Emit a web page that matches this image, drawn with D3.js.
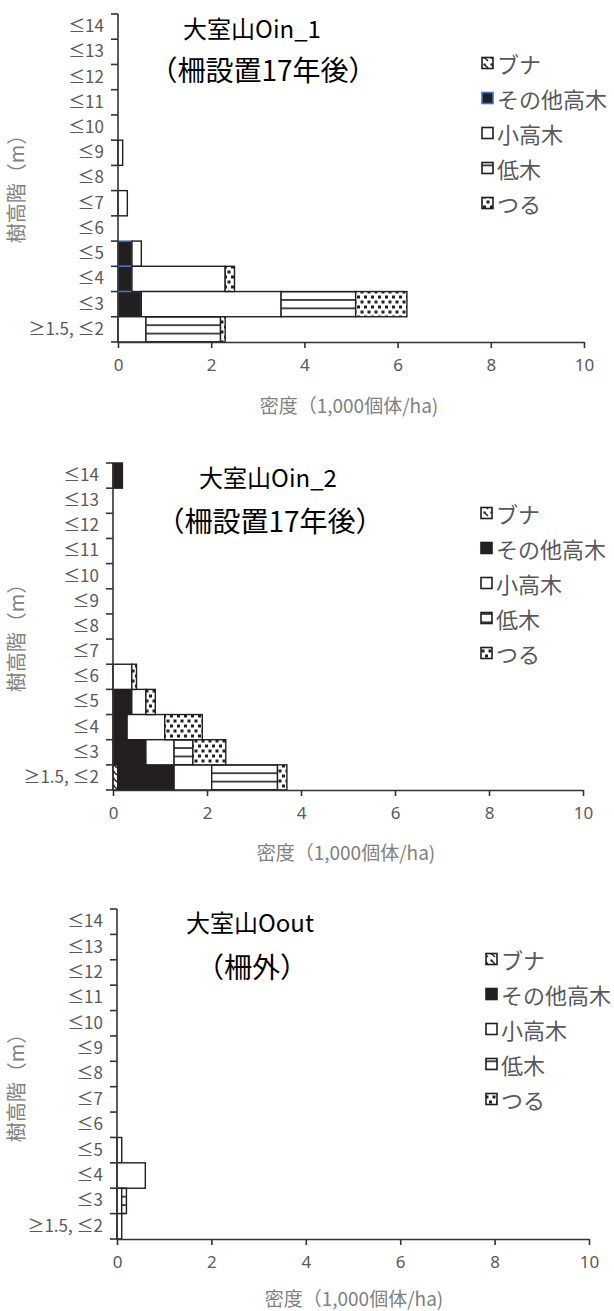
<!DOCTYPE html>
<html><head><meta charset="utf-8">
<script src="https://cdn.jsdelivr.net/npm/d3@7"></script>
<style>
body{margin:0;background:#fff}
svg{display:block}
text{font-family:"Noto Sans CJK JP","Noto Sans",sans-serif}
</style>
</head><body>
<svg id="chart" width="614" height="1311"></svg>
<script>
// ---- data (categories listed from bottom to top of the axis) ----
const categories = ["≥1.5, ≤2","≤3","≤4","≤5","≤6","≤7","≤8","≤9","≤10","≤11","≤12","≤13","≤14"];
const seriesNames = ["ブナ","その他高木","小高木","低木","つる"];
const xTickValues = [0,2,4,6,8,10];
const xAxisTitle = "密度（1,000個体/ha)";
const yAxisTitle = "樹高階（m）";

// 大室山Oin_1
const oin1Title = ["大室山Oin_1","（柵設置17年後）"];
const oin1Buna  = [0,  0,  0,  0,  0,0,  0,0,  0,0,0,0,0];
const oin1Other = [0,  0.5,0.3,0.3,0,0,  0,0,  0,0,0,0,0];
const oin1Small = [0.6,3.0,2.0,0.2,0,0.2,0,0.1,0,0,0,0,0];
const oin1Low   = [1.6,1.6,0,  0,  0,0,  0,0,  0,0,0,0,0];
const oin1Vine  = [0.1,1.1,0.2,0,  0,0,  0,0,  0,0,0,0,0];

// 大室山Oin_2
const oin2Title = ["大室山Oin_2","（柵設置17年後）"];
const oin2Buna  = [0.1,0,  0,  0,  0,  0,0,0,0,0,0,0,0];
const oin2Other = [1.2,0.7,0.3,0.4,0,  0,0,0,0,0,0,0,0.2];
const oin2Small = [0.8,0.6,0.8,0.3,0.4,0,0,0,0,0,0,0,0];
const oin2Low   = [1.4,0.4,0,  0,  0,  0,0,0,0,0,0,0,0];
const oin2Vine  = [0.2,0.7,0.8,0.2,0.1,0,0,0,0,0,0,0,0];

// 大室山Oout
const ooutTitle = ["大室山Oout","（柵外）"];
const ooutBuna  = [0,  0,  0,  0,  0,0,0,0,0,0,0,0,0];
const ooutOther = [0,  0,  0,  0,  0,0,0,0,0,0,0,0,0];
const ooutSmall = [0.1,0.1,0.6,0.1,0,0,0,0,0,0,0,0,0];
const ooutLow   = [0,  0.1,0,  0,  0,0,0,0,0,0,0,0,0];
const ooutVine  = [0,  0,  0,  0,  0,0,0,0,0,0,0,0,0];

// ---- drawing ----
const svg = d3.select("#chart");
const INK = "#231f20";
const NUMFONT = "'Noto Sans','DejaVu Sans',sans-serif";
const CJKFONT = "'Noto Sans CJK JP',sans-serif";

function drawChart(id, title, arrays, L, otherStroke) {
  const rows = categories.map((c, i) => {
    const r = {cat: c};
    seriesNames.forEach((s, k) => r[s] = arrays[k][i]);
    return r;
  });
  const stacked = d3.stack().keys(seriesNames)(rows);

  const x = d3.scaleLinear().domain([0, 10]).range([L.left, L.right]);
  const y = d3.scaleBand().domain(categories.slice().reverse()).range([L.top, L.bottom]).padding(0);
  const bw = y.bandwidth();

  const g = svg.append("g");
  const defs = svg.append("defs");

  // patterns
  const pB = defs.append("pattern").attr("id", id + "buna").attr("patternUnits", "userSpaceOnUse")
    .attr("width", 7).attr("height", 7);
  pB.append("rect").attr("width", 7).attr("height", 7).attr("fill", "#fff");
  pB.append("line").attr("x1", 1).attr("y1", 1).attr("x2", 5).attr("y2", 5).attr("stroke", INK).attr("stroke-width", 1.4);
  pB.append("rect").attr("x", 0.5).attr("y", 0.5).attr("width", 2).attr("height", 2).attr("fill", INK);

  const pL = defs.append("pattern").attr("id", id + "low").attr("patternUnits", "userSpaceOnUse")
    .attr("x", 0).attr("y", L.top).attr("width", 10).attr("height", bw / 3);
  pL.append("rect").attr("width", 10).attr("height", bw / 3).attr("fill", "#fff");
  pL.append("rect").attr("y", -0.8).attr("width", 10).attr("height", 1.6).attr("fill", INK);
  pL.append("rect").attr("y", bw / 3 - 0.8).attr("width", 10).attr("height", 1.6).attr("fill", INK);

  const pV = defs.append("pattern").attr("id", id + "vine").attr("patternUnits", "userSpaceOnUse")
    .attr("x", L.left).attr("y", L.top).attr("width", 7).attr("height", 10);
  pV.append("rect").attr("width", 7).attr("height", 10).attr("fill", "#fff");
  pV.append("rect").attr("x", 1).attr("y", 1.5).attr("width", 3).attr("height", 3).attr("fill", INK);
  pV.append("rect").attr("x", 4.5).attr("y", 6.5).attr("width", 3).attr("height", 3).attr("fill", INK);
  pV.append("rect").attr("x", -2.5).attr("y", 6.5).attr("width", 3).attr("height", 3).attr("fill", INK);

  const fills = {
    "ブナ": `url(#${id}buna)`,
    "その他高木": INK,
    "小高木": "#fff",
    "低木": `url(#${id}low)`,
    "つる": `url(#${id}vine)`
  };
  const strokes = {"ブナ": INK, "その他高木": otherStroke, "小高木": INK, "低木": INK, "つる": INK};

  // bars
  stacked.forEach(layer => {
    const key = layer.key;
    const data = layer.map((d, i) => ({cat: categories[i], x0: d[0], x1: d[1]}))
      .filter(d => d.x1 - d.x0 > 0).reverse();
    g.selectAll(null).data(data).join("rect")
      .attr("x", d => x(d.x0))
      .attr("y", d => y(d.cat))
      .attr("width", d => x(d.x1) - x(d.x0))
      .attr("height", bw)
      .attr("fill", fills[key])
      .attr("stroke", strokes[key])
      .attr("stroke-width", 1.4);
  });

  // x axis
  const xa = g.append("g").attr("transform", `translate(0,${L.bottom})`)
    .call(d3.axisBottom(x).tickValues(xTickValues).tickSize(6).tickSizeOuter(0).tickPadding(11));
  xa.select(".domain").attr("stroke", "#333").attr("stroke-width", 1.6);
  xa.selectAll(".tick line").attr("stroke", "#333").attr("stroke-width", 1.6);
  xa.selectAll(".tick text").attr("fill", "#595959").style("font-size", "17px")
    .style("font-family", NUMFONT);

  // y axis: labels at band centres, ticks on band boundaries
  const ya = g.append("g").attr("transform", `translate(${L.left},0)`)
    .call(d3.axisLeft(y).tickSize(0).tickPadding(14));
  ya.select(".domain").remove();
  ya.selectAll(".tick text").attr("fill", "#595959").style("font-size", "17px")
    .style("font-family", CJKFONT);
  const bounds = y.domain().map(c => y(c)).concat([L.bottom]);
  g.selectAll(null).data(bounds).join("line")
    .attr("x1", L.left - 7).attr("x2", L.left).attr("y1", d => d).attr("y2", d => d)
    .attr("stroke", "#333").attr("stroke-width", 1.6);
  g.append("line").attr("x1", L.left).attr("x2", L.left).attr("y1", L.top).attr("y2", L.bottom)
    .attr("stroke", "#333").attr("stroke-width", 1.6);

  // titles
  g.append("text").attr("x", L.titleX).attr("y", L.titleY).attr("text-anchor", "middle")
    .attr("dominant-baseline", "central").attr("fill", "#000").style("font-size", "24px").text(title[0]);
  g.append("text").attr("x", L.subX).attr("y", L.subY).attr("text-anchor", "middle")
    .attr("dominant-baseline", "central").attr("fill", "#000").style("font-size", "28px").text(title[1]);

  // axis titles
  g.append("text").attr("x", L.xTitleX).attr("y", L.xTitleY).attr("text-anchor", "middle")
    .attr("dominant-baseline", "central").attr("fill", "#808080").style("font-size", "19px").text(xAxisTitle);
  g.append("text").attr("transform", `translate(${L.yTitleX},${L.yTitleY}) rotate(-90)`)
    .attr("text-anchor", "middle").attr("dominant-baseline", "central")
    .attr("fill", "#808080").style("font-size", "20px").text(yAxisTitle);

  // legend
  const lg = g.append("g");
  seriesNames.forEach((s, k) => {
    const cy = L.legY + k * L.legStep;
    lg.append("rect").attr("x", L.legX).attr("y", cy - 5.5).attr("width", 11).attr("height", 11)
      .attr("fill", fills[s]).attr("stroke", strokes[s]).attr("stroke-width", 1.6);
    lg.append("text").attr("x", L.legX + 15).attr("y", cy).attr("dominant-baseline", "central")
      .attr("fill", "#595959").style("font-size", "22px").text(s);
  });
}

drawChart("c1", oin1Title, [oin1Buna, oin1Other, oin1Small, oin1Low, oin1Vine], {
  left: 118, right: 584, top: 14, bottom: 342,
  titleX: 252, titleY: 27, subX: 263, subY: 69,
  xTitleX: 349, xTitleY: 404, yTitleX: 15, yTitleY: 184,
  legX: 482, legY: 63, legStep: 35
}, "#4472c4");

drawChart("c2", oin2Title, [oin2Buna, oin2Other, oin2Small, oin2Low, oin2Vine], {
  left: 113, right: 583, top: 463, bottom: 790,
  titleX: 268, titleY: 476, subX: 270, subY: 520,
  xTitleX: 346, xTitleY: 851, yTitleX: 15, yTitleY: 633,
  legX: 481, legY: 513, legStep: 35
}, INK);

drawChart("c3", ooutTitle, [ooutBuna, ooutOther, ooutSmall, ooutLow, ooutVine], {
  left: 117, right: 589, top: 909, bottom: 1239,
  titleX: 250, titleY: 921, subX: 252, subY: 966,
  xTitleX: 354, xTitleY: 1297, yTitleX: 15, yTitleY: 1083,
  legX: 486, legY: 959, legStep: 35
}, INK);
</script>
</body></html>
